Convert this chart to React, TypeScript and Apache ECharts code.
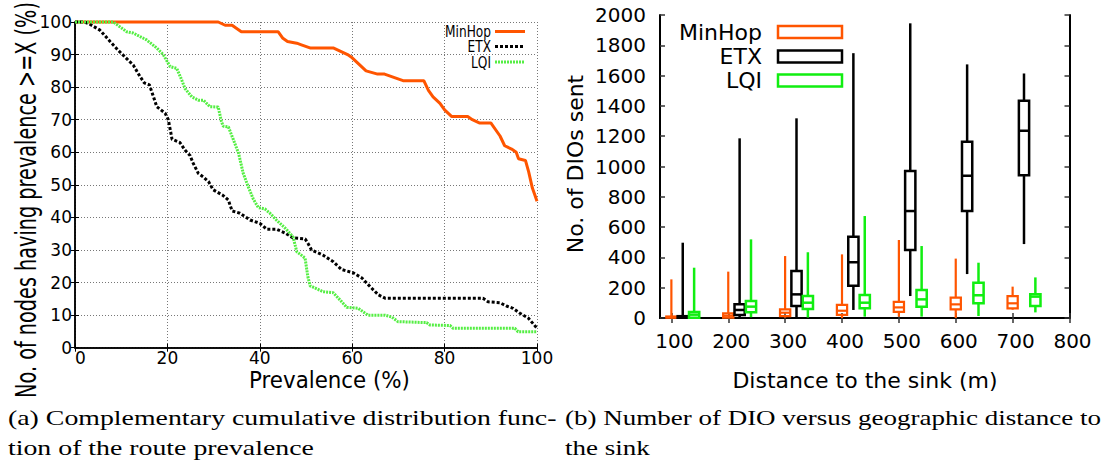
import React, { useEffect, useRef } from 'react';
import * as echarts from 'echarts';

// ---------- Data: (a) CCDF of route prevalence ----------
const minHopCurve: number[][] = [
  [0, 100], [31, 100], [32.5, 99], [34, 99], [36, 97], [44, 97], [45, 95], [46, 94], [48, 93.5], [49, 93],
  [51, 92], [56, 92], [57.5, 91], [59, 90], [60, 89], [61.5, 87], [63, 85], [65.5, 84], [67, 84], [69, 83],
  [71, 82], [75.5, 82], [76.5, 79], [77.5, 77], [79, 75], [80, 73], [81.5, 71], [85, 71], [86, 70], [87.5, 69],
  [90, 69], [92, 65], [93, 62], [94.5, 61], [95.5, 60], [96, 58], [97.5, 57.5], [98.2, 54], [99, 49], [99.5, 47], [100, 45],
];
const etxCurve: number[][] = [
  [0, 100], [2, 100], [3, 99.5], [5.4, 97.5], [7.6, 94], [9.3, 91.4], [11.5, 88.3], [12.6, 86.8], [14.1, 83.2],
  [15, 81.3], [16.1, 80.7], [17, 77], [17.7, 74], [19.5, 72], [20.2, 70], [20.7, 66.3], [21, 64], [22.7, 63],
  [23.8, 60.7], [24.9, 59], [25.6, 56.6], [26.7, 53.5], [27.8, 52.4], [28.9, 51], [29.9, 48.5], [32, 46.8],
  [33.2, 45.3], [34, 42], [35.7, 41.3], [37.9, 39.2], [40, 38.2], [41.5, 36.4], [43.6, 36.4], [45.5, 35.2],
  [47.2, 33.7], [49.8, 33.4], [50.4, 32.1], [51.2, 30], [53.7, 28.4], [55.9, 26.4], [57.7, 24], [60.2, 23],
  [62.1, 21.4], [63.9, 18.7], [65.7, 16.2], [67.1, 15.2], [88.3, 15.2], [89.4, 14.1], [92, 13.8], [93.4, 12.8],
  [94.8, 12.1], [96.3, 10.6], [98.1, 9.1], [100, 6],
];
const lqiCurve: number[][] = [
  [0, 100], [8.3, 100], [11.2, 97], [12.6, 96.6], [14.8, 95], [15.5, 94.5], [17.7, 92], [19.1, 90], [19.9, 88],
  [20.6, 86.3], [22, 85.8], [23.1, 82.2], [23.8, 79.6], [25.3, 77], [26.7, 76], [27.8, 76], [29.2, 74], [31, 73.9],
  [31.7, 69.4], [32.1, 68], [33.2, 67.8], [34.3, 63.8], [35.4, 59.7], [36.4, 53.6], [37.5, 49.4], [38.6, 45.6],
  [39.7, 43], [41.1, 42.6], [42.2, 41.3], [43.6, 39.2], [45.5, 36.7], [47.2, 34], [48, 29.5], [49.8, 27.5],
  [50.4, 21.8], [50.9, 19], [53.7, 17.2], [55.9, 16.9], [57.4, 14.6], [58.8, 12.4], [61.3, 12.1], [63.4, 10],
  [67.1, 10], [68.6, 9.4], [69.9, 8], [76.1, 7.7], [76.8, 7], [81.2, 6.8], [81.8, 6], [95.2, 6], [95.9, 4.9], [100, 4.9],
];

// ---------- Data: (b) DIOs vs distance: [min, q1, median, q3, max] ----------
const distances = [100, 200, 300, 400, 500, 600, 700];
const distanceTicks = [100, 200, 300, 400, 500, 600, 700, 800];
const minHopDio: number[][] = [
  [0, 2, 5, 10, 255], [0, 3, 15, 30, 306], [3, 13, 35, 57, 409], [0, 20, 48, 86, 420],
  [9, 40, 70, 106, 515], [0, 57, 90, 134, 392], [55, 64, 97, 145, 207],
];
const etxDio: number[][] = [
  [0, 2, 5, 12, 497], [0, 20, 53, 90, 1186], [0, 80, 156, 310, 1318], [53, 213, 368, 537, 1748],
  [145, 449, 706, 970, 1945], [290, 706, 939, 1164, 1674], [488, 943, 1236, 1434, 1614],
];
const lqiDio: number[][] = [
  [0, 2, 22, 40, 332], [5, 38, 75, 112, 519], [3, 60, 101, 145, 434], [9, 64, 101, 152, 673],
  [9, 75, 123, 185, 475], [13, 97, 150, 233, 365], [37, 79, 141, 156, 268],
];

const ORANGE = '#ff5500';
const GREEN_A = '#55ee44';
const GREEN_B = '#11ee11';
const SANS = 'DejaVu Sans';
const SERIF = 'Liberation Serif';

function measure(text: string, font: string): number {
  const ctx = document.createElement('canvas').getContext('2d');
  if (!ctx) return text.length * 10;
  ctx.font = font;
  return ctx.measureText(text).width;
}

export default function App() {
  const ref = useRef<HTMLDivElement>(null);

  useEffect(() => {
    if (!ref.current) return;
    const chart = echarts.init(ref.current, undefined, { renderer: 'svg' });

    const boxRenderer = (color: string, lw: number) => (params: any, api: any) => {
      const x = api.value(0);
      const pMin = api.coord([x, api.value(1)]);
      const pQ1 = api.coord([x, api.value(2)]);
      const pMed = api.coord([x, api.value(3)]);
      const pQ3 = api.coord([x, api.value(4)]);
      const pMax = api.coord([x, api.value(5)]);
      const half = api.size([18, 0])[0] / 2;
      const st = { stroke: color, lineWidth: lw, fill: 'none' };
      return {
        type: 'group',
        children: [
          { type: 'line', shape: { x1: pMin[0], y1: pMin[1], x2: pQ1[0], y2: pQ1[1] }, style: st },
          { type: 'line', shape: { x1: pQ3[0], y1: pQ3[1], x2: pMax[0], y2: pMax[1] }, style: st },
          { type: 'rect', shape: { x: pQ3[0] - half, y: pQ3[1], width: half * 2, height: Math.max(pQ1[1] - pQ3[1], 1) }, style: st },
          { type: 'line', shape: { x1: pMed[0] - half, y1: pMed[1], x2: pMed[0] + half, y2: pMed[1] }, style: st },
        ],
      };
    };

    const boxSeries = (name: string, vals: number[][], offset: number, color: string, lw: number) => ({
      type: 'custom',
      name,
      xAxisIndex: 2,
      yAxisIndex: 2,
      renderItem: boxRenderer(color, lw),
      encode: { x: 0, y: [1, 2, 3, 4, 5] },
      data: distances.map((d, i) => [d + offset, ...vals[i]]),
      clip: false,
    });

    // text fitting
    const yTitle = 'No. of nodes having prevalence >=X (%)';
    const yTitleFont = `28px "${SANS}"`;
    const yTitleScale = 396 / measure(yTitle, yTitleFont);
    const xTitle = 'Prevalence (%)';
    const xTitleFont = `23px "${SANS}"`;
    const xTitleScale = 161 / measure(xTitle, xTitleFont);
    const legFont = `16px "${SANS}"`;
    const legScale = 46 / measure('MinHop', legFont);
    const capA1 = '(a) Complementary cumulative distribution func-';
    const capB1 = '(b) Number of DIO versus geographic distance to';
    const capFont = `20px "${SERIF}"`;
    const capScale = 549 / measure(capA1, capFont);
    const capScaleB = Math.min(capScale, 536 / measure(capB1, capFont));

    const axisTextBase = { color: '#000', fontFamily: SANS };
    const frameLine = (w: number) => ({ show: true, lineStyle: { color: '#000', width: w } });
    const gridDot = { show: true, lineStyle: { color: '#777', type: [1, 2] as any, width: 1 } };
    const plain = (v: number) => String(v);

    const legendA = [
      { name: 'MinHop', y: 31.5, color: ORANGE, type: 'solid' as any },
      { name: 'ETX', y: 46.5, color: '#000', type: [3, 2] as any },
      { name: 'LQI', y: 62, color: GREEN_A, type: [2, 1] as any },
    ];
    const legendB = [
      { name: 'MinHop', y: 32, color: ORANGE },
      { name: 'ETX', y: 56.5, color: '#000' },
      { name: 'LQI', y: 80.5, color: GREEN_B },
    ];

    const graphics: any[] = [
      {
        type: 'text', x: 27, y: 200, rotation: Math.PI / 2, scaleX: yTitleScale, scaleY: 1,
        style: { text: yTitle, font: yTitleFont, fill: '#000', align: 'center', verticalAlign: 'middle' },
      },
      {
        type: 'text', x: 329.5, y: 380, scaleX: xTitleScale,
        style: { text: xTitle, font: xTitleFont, fill: '#000', align: 'center', verticalAlign: 'middle' },
      },
      {
        type: 'text', x: 575, y: 164, rotation: Math.PI / 2,
        style: { text: 'No. of DIOs sent', font: `22px "${SANS}"`, fill: '#000', align: 'center', verticalAlign: 'middle' },
      },
      {
        type: 'text', x: 865, y: 380,
        style: { text: 'Distance to the sink (m)', font: `22px "${SANS}"`, fill: '#000', align: 'center', verticalAlign: 'middle' },
      },
      ...legendA.flatMap((l) => [
        {
          type: 'text', x: 491, y: l.y, scaleX: legScale,
          style: { text: l.name, font: legFont, fill: '#000', align: 'right', verticalAlign: 'middle' },
        },
        {
          type: 'line', shape: { x1: 495, y1: l.y, x2: 525, y2: l.y },
          style: { stroke: l.color, lineWidth: 3, lineDash: l.type === 'solid' ? null : l.type },
        },
      ]),
      ...legendB.flatMap((l) => [
        {
          type: 'text', x: 762, y: l.y,
          style: { text: l.name, font: `22px "${SANS}"`, fill: '#000', align: 'right', verticalAlign: 'middle' },
        },
        {
          type: 'rect', shape: { x: 778, y: l.y - 6, width: 64, height: 12 },
          style: { stroke: l.color, lineWidth: 2.5, fill: 'none' },
        },
      ]),
      {
        type: 'text', x: 8, y: 418, scaleX: capScale,
        style: { text: capA1, font: capFont, fill: '#000', align: 'left', verticalAlign: 'middle' },
      },
      {
        type: 'text', x: 8, y: 448, scaleX: capScale,
        style: { text: 'tion of the route prevalence', font: capFont, fill: '#000', align: 'left', verticalAlign: 'middle' },
      },
      {
        type: 'text', x: 565, y: 418, scaleX: capScaleB,
        style: { text: capB1, font: capFont, fill: '#000', align: 'left', verticalAlign: 'middle' },
      },
      {
        type: 'text', x: 565, y: 448, scaleX: capScaleB,
        style: { text: 'the sink', font: capFont, fill: '#000', align: 'left', verticalAlign: 'middle' },
      },
    ];

    chart.setOption({
      animation: false,
      backgroundColor: '#fff',
      grid: [
        { left: 75, top: 22, width: 462, height: 325.7 },
        { left: 660, top: 15, width: 409.5, height: 303 },
      ],
      xAxis: [
        {
          type: 'value', gridIndex: 0, min: 0, max: 100, interval: 20, position: 'bottom',
          axisLine: frameLine(1.5), axisTick: { show: true, inside: true, length: 4, lineStyle: { color: '#000' } },
          axisLabel: { ...axisTextBase, fontSize: 17, margin: 2, alignMinLabel: 'left', formatter: plain },
          splitLine: gridDot,
        },
        {
          type: 'value', gridIndex: 0, min: 0, max: 100, interval: 20, position: 'top',
          axisLine: frameLine(1.5), axisTick: { show: true, inside: true, length: 4, lineStyle: { color: '#000' } },
          axisLabel: { show: false }, splitLine: { show: false },
        },
        {
          type: 'value', gridIndex: 1, min: 80, max: 800, position: 'bottom',
          axisLine: frameLine(2),
          axisTick: { show: true, inside: true, length: 5, customValues: distanceTicks, lineStyle: { color: '#333', width: 1.5 } },
          axisLabel: { ...axisTextBase, fontSize: 20, margin: 13, padding: [0, 0, 0, 6], customValues: distanceTicks, formatter: plain },
          splitLine: { show: false },
        },
        {
          type: 'value', gridIndex: 1, min: 80, max: 800, position: 'top',
          axisLine: frameLine(2),
          axisTick: { show: true, inside: true, length: 5, customValues: distanceTicks, lineStyle: { color: '#333', width: 1.5 } },
          axisLabel: { show: false }, splitLine: { show: false },
        },
      ],
      yAxis: [
        {
          type: 'value', gridIndex: 0, min: 0, max: 100, interval: 10, position: 'left',
          axisLine: frameLine(1.5), axisTick: { show: true, inside: true, length: 4, lineStyle: { color: '#000' } },
          axisLabel: { ...axisTextBase, fontSize: 17, margin: 3, formatter: plain }, splitLine: gridDot,
        },
        {
          type: 'value', gridIndex: 0, min: 0, max: 100, interval: 10, position: 'right',
          axisLine: frameLine(1.5), axisTick: { show: true, inside: true, length: 4, lineStyle: { color: '#000' } },
          axisLabel: { show: false }, splitLine: { show: false },
        },
        {
          type: 'value', gridIndex: 1, min: 0, max: 2000, interval: 200, position: 'left',
          axisLine: frameLine(2), axisTick: { show: true, inside: true, length: 5, lineStyle: { color: '#333', width: 1.5 } },
          axisLabel: { ...axisTextBase, fontSize: 20, margin: 14, formatter: plain }, splitLine: { show: false },
        },
        {
          type: 'value', gridIndex: 1, min: 0, max: 2000, interval: 200, position: 'right',
          axisLine: frameLine(2), axisTick: { show: true, inside: true, length: 5, lineStyle: { color: '#333', width: 1.5 } },
          axisLabel: { show: false }, splitLine: { show: false },
        },
      ],
      series: [
        {
          type: 'line', name: 'MinHop', xAxisIndex: 0, yAxisIndex: 0, data: minHopCurve, showSymbol: false,
          clip: false, lineStyle: { color: ORANGE, width: 3 }, z: 3,
        },
        {
          type: 'line', name: 'ETX', xAxisIndex: 0, yAxisIndex: 0, data: etxCurve, showSymbol: false,
          clip: false, lineStyle: { color: '#000', width: 3, type: [3, 2] }, z: 4,
        },
        {
          type: 'line', name: 'LQI', xAxisIndex: 0, yAxisIndex: 0, data: lqiCurve, showSymbol: false,
          clip: false, lineStyle: { color: GREEN_A, width: 3, type: [2, 1] }, z: 5,
        },
        boxSeries('MinHop', minHopDio, 0, ORANGE, 2.2),
        boxSeries('ETX', etxDio, 20, '#000', 2.5),
        boxSeries('LQI', lqiDio, 40, GREEN_B, 2.5),
      ],
      graphic: graphics,
    });

    return () => chart.dispose();
  }, []);

  return <div ref={ref} style={{ position: 'absolute', left: 0, top: 0, width: 1104, height: 466 }} />;
}
